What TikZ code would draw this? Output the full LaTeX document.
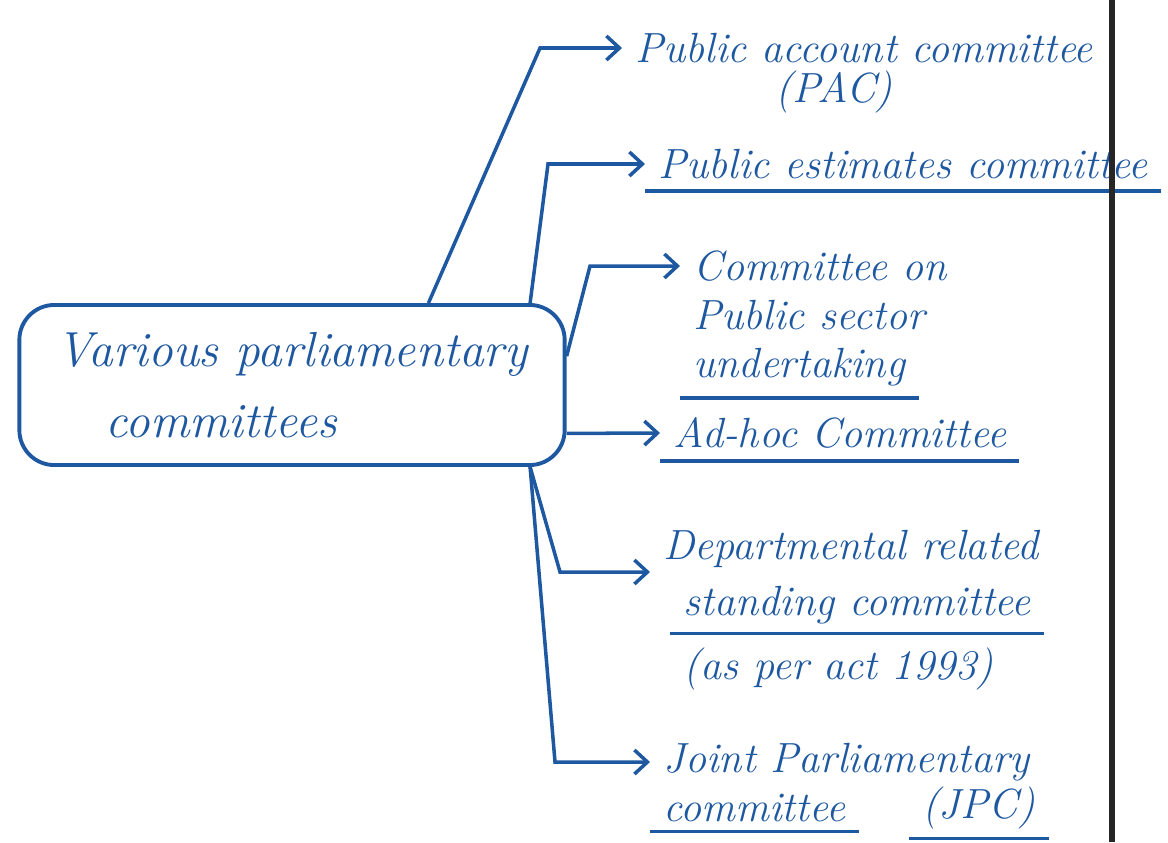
\documentclass[tikz,border=0pt]{standalone}
\usepackage{tikz}
\usetikzlibrary{arrows.meta, positioning}
\definecolor{penblue}{RGB}{30,88,160}

\begin{document}
\begin{tikzpicture}[x=0.01cm, y=-0.01cm,
    hub/.style={draw=penblue, line width=1.1pt, rounded corners=3.5mm, minimum width=5.45cm, minimum height=1.6cm, align=left, text=penblue, font=\fontsize{14}{20}\selectfont\itshape},
    leaf/.style={text=penblue, inner sep=1pt, outer xsep=1mm, font=\fontsize{12}{15}\selectfont\itshape},
    link/.style={draw=penblue, line width=1pt, -{Straight Barb[length=1.3mm, width=2.4mm]}},
    uline/.style={draw=penblue, line width=1pt},
]
  \useasboundingbox (0,0) rectangle (1168,842);

  % Centre box (left)
  \node[hub] (vpc) at (292,385) {Various parliamentary\\ \quad committees};

  % Committees (right)
  \node[leaf, anchor=west] (pac1) at (622,48) {Public account committee};
  \node[leaf, below=0mm of pac1, xshift=-3mm] (pac2) {(PAC)};

  \node[leaf, anchor=west] (pec) at (645,164) {Public estimates committee};
  \draw[uline] ([yshift=-0.8mm]pec.south west) -- ([yshift=-0.8mm]pec.south east);

  \node[leaf, anchor=west] (cpsu1) at (680,266) {Committee on};
  \node[leaf, below=1mm of cpsu1.south west, anchor=north west] (cpsu2) {Public sector};
  \node[leaf, below=1mm of cpsu2.south west, anchor=north west] (cpsu3) {undertaking};
  \draw[uline] ([yshift=-0.8mm]cpsu3.south west) -- ([yshift=-0.8mm]cpsu3.south east);

  \node[leaf, anchor=west] (adhoc) at (660,433) {Ad-hoc Committee};
  \draw[uline] ([yshift=-0.8mm]adhoc.south west) -- ([yshift=-0.8mm]adhoc.south east);

  \node[leaf, anchor=south west] (drsc1) at (650,572) {Departmental related};
  \node[leaf, below=1mm of drsc1.south west, anchor=north west, xshift=2mm] (drsc2) {standing committee};
  \node[leaf, below=1.5mm of drsc2.south west, anchor=north west] (drsc3) {(as per act 1993)};
  \draw[uline] ([yshift=-0.5mm]drsc2.south west) -- ([yshift=-0.5mm]drsc2.south east);

  \node[leaf, anchor=west] (jpc1) at (650,762) {Joint Parliamentary};
  \node[leaf, below=0.5mm of jpc1.south west, anchor=north west] (jpc2) {committee};
  \node[leaf, right=5mm of jpc2] (jpc3) {(JPC)};
  \draw[uline] ([yshift=-0.5mm]jpc2.south west) -- ([yshift=-0.5mm]jpc2.south east);
  \draw[uline] ([yshift=-0.5mm]jpc3.south west) -- ([yshift=-0.5mm]jpc3.south east);

  % Connectors
  \draw[link] (vpc.31) -- (540,48) -- (pac1.west);
  \draw[link] (vpc.19) -- (548,164) -- (pec.west);
  \draw[link] (vpc.6) -- (590,266) -- (cpsu1.west);
  \draw[link] (vpc.-10) -- (adhoc.west);
  \draw[link] (vpc.-19) -- (560,572) -- (drsc1.south west);
  \draw[link] (vpc.-19.7) -- (555,762) -- (jpc1.west);

  % Page margin line
  \draw[line width=1.8pt, black!85] (1112,0) -- (1112,842);
\end{tikzpicture}
\end{document}
